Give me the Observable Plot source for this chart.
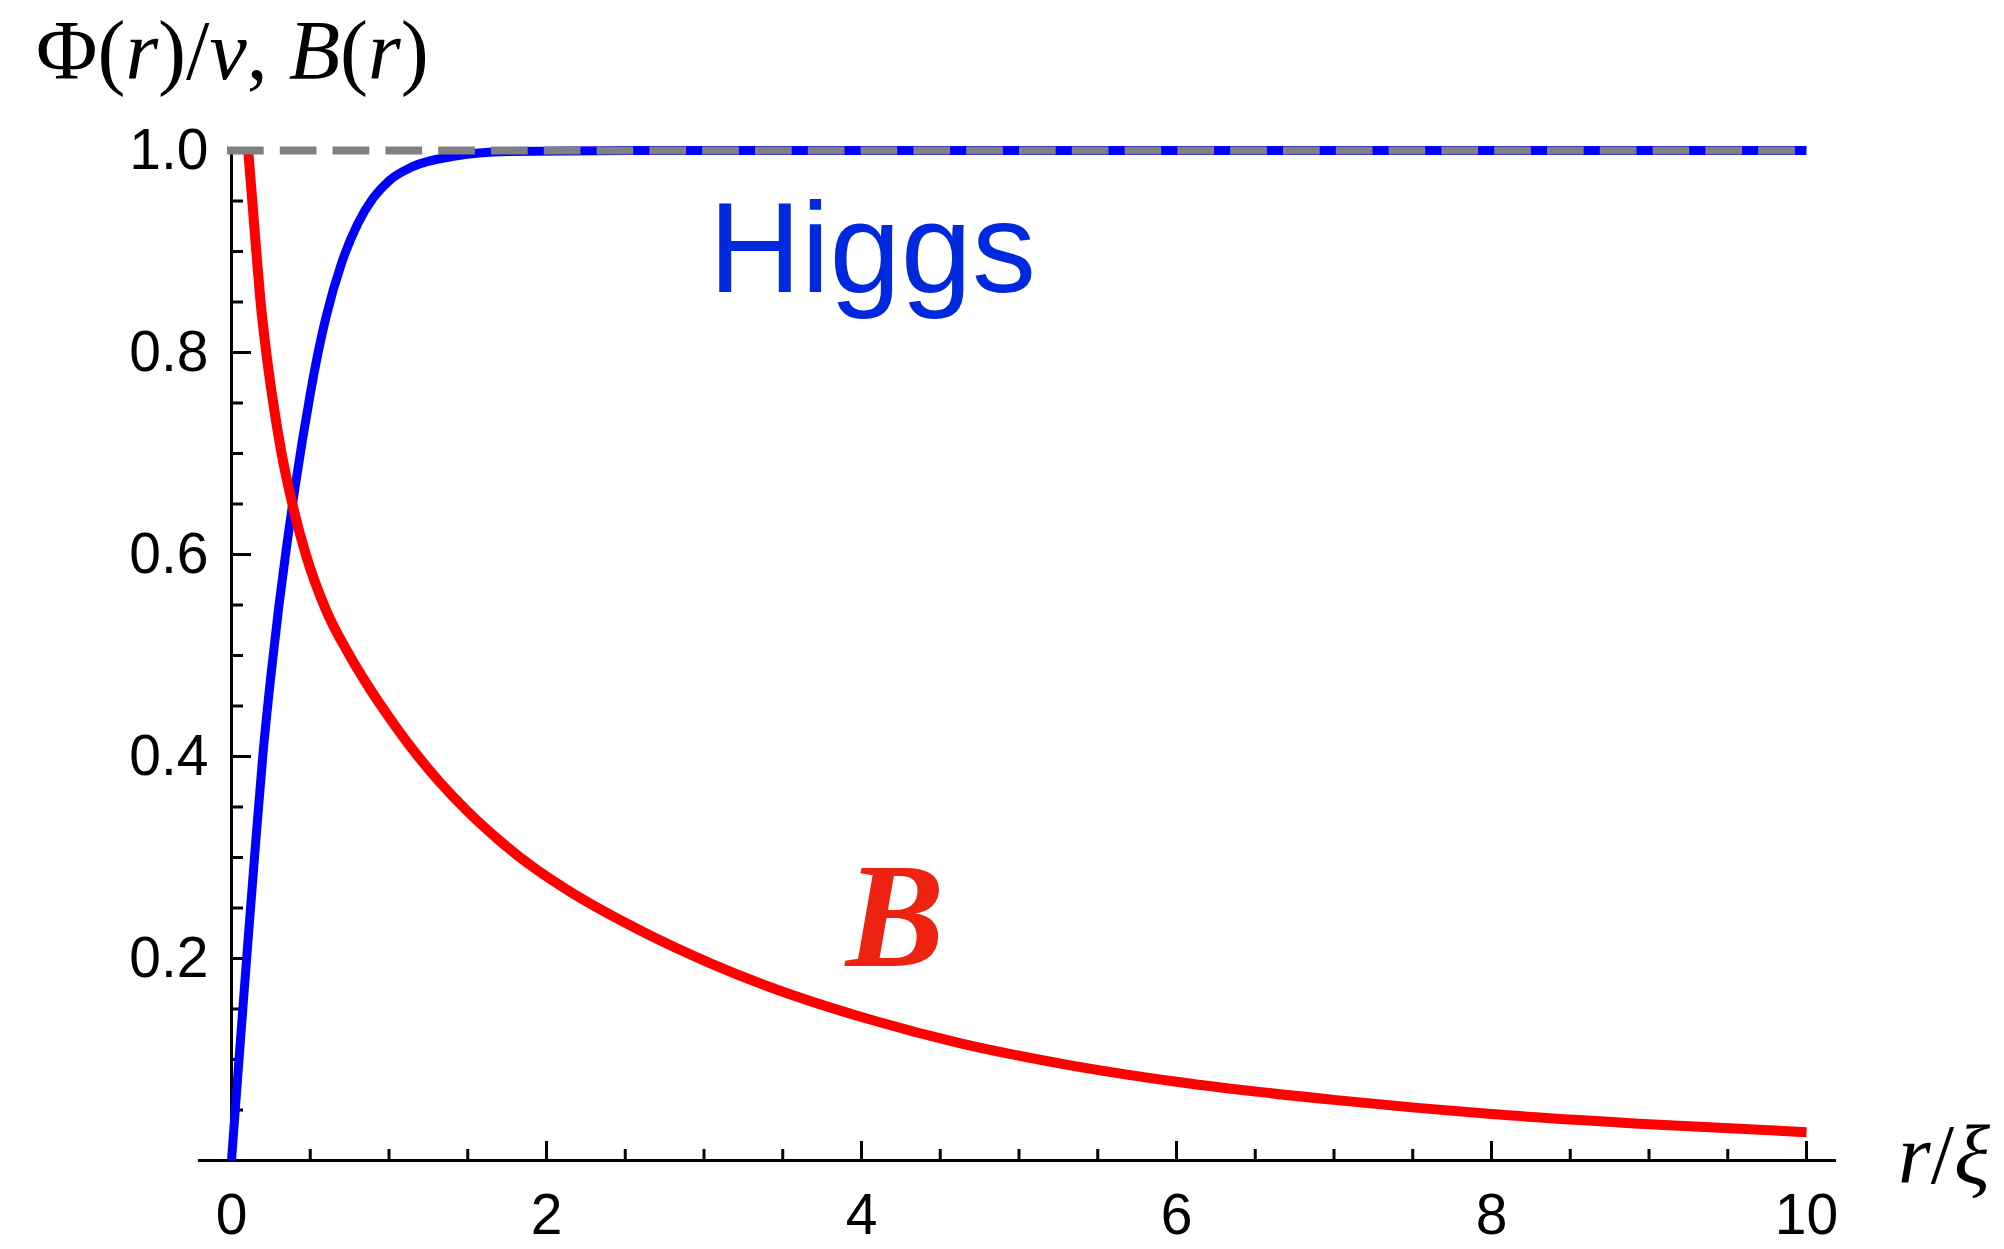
<!DOCTYPE html>
<html>
<head>
<meta charset="utf-8">
<script src="https://cdn.jsdelivr.net/npm/d3@7"></script>
<script src="https://cdn.jsdelivr.net/npm/@observablehq/plot@0.6"></script>
<style>
  html, body { margin: 0; padding: 0; background: #ffffff; }
  #chart svg { display: block; overflow: visible; }
</style>
</head>
<body>
<div id="chart"></div>
<script>
// Higgs profile Φ(r)/v versus r/ξ
const higgsR = [0, 0.05, 0.10, 0.15, 0.20, 0.25, 0.30, 0.35, 0.40, 0.45, 0.50, 0.55, 0.60, 0.70, 0.80, 0.90, 1.00, 1.15, 1.40, 1.76, 2.5, 4, 6, 8, 10];
const higgsV = [0, 0.105, 0.208, 0.308, 0.403, 0.48, 0.548, 0.608, 0.663, 0.713, 0.759, 0.80, 0.835, 0.889, 0.927, 0.953, 0.970, 0.984, 0.994, 0.999, 1, 1, 1, 1, 1];

// Magnetic field profile B(r) versus r/ξ
const fieldR = [0.106, 0.131, 0.157, 0.184, 0.22, 0.264, 0.317, 0.385, 0.47, 0.60, 0.75, 0.85, 1.0, 1.15, 1.32, 1.49, 1.70, 1.91, 2.12, 2.63, 3.03, 3.43, 4.0, 4.63, 5.3, 6, 7, 8, 9, 10];
const fieldB = [1.0, 0.952, 0.901, 0.851, 0.801, 0.751, 0.701, 0.651, 0.601, 0.545, 0.50, 0.474, 0.439, 0.407, 0.375, 0.347, 0.317, 0.291, 0.269, 0.225, 0.196, 0.171, 0.142, 0.116, 0.095, 0.078, 0.060, 0.046, 0.036, 0.028];

// Asymptotic vacuum value (dashed reference)
const vacuumLevel = [1];

// Axis ticks
const xLabels = [0, 2, 4, 6, 8, 10];
const xMajor = [0, 2, 4, 6, 8, 10];
const xMinor = [0.5, 1, 1.5, 2.5, 3, 3.5, 4.5, 5, 5.5, 6.5, 7, 7.5, 8.5, 9, 9.5];
const yLabels = [0.2, 0.4, 0.6, 0.8, 1.0];
const yMajor = [0, 0.2, 0.4, 0.6, 0.8, 1.0];
const yMinor = [0.05, 0.1, 0.15, 0.25, 0.3, 0.35, 0.45, 0.5, 0.55, 0.65, 0.7, 0.75, 0.85, 0.9, 0.95];
const xAxisExtent = [-0.21, 10.19];

// Curve annotations
const annotations = [
  {r: 3.03, v: 0.9495, text: "Higgs", color: "#0028dc", font: "Liberation Sans, Arial, sans-serif", size: 128, style: "normal", weight: "normal"},
  {r: 3.90, v: 0.2965, text: "B", color: "#ee2211", font: "Liberation Serif, Times New Roman, serif", size: 148, style: "italic", weight: "bold"}
];

const higgs = higgsR.map((r, i) => ({r, v: higgsV[i]}));
const field = fieldR.map((r, i) => ({r, v: fieldB[i]}));

const W = 2004, H = 1249;
const sans = "Liberation Sans, Arial, sans-serif";

const chart = Plot.plot({
  width: W,
  height: H,
  marginLeft: 231,
  marginRight: 198,
  marginTop: 150,
  marginBottom: 89,
  style: {fontFamily: sans, fontSize: "57px", background: "#ffffff", color: "#000000"},
  x: {domain: [0, 10]},
  y: {domain: [0, 1]},
  marks: [
    // axis lines
    Plot.ruleY([0], {x1: xAxisExtent[0], x2: xAxisExtent[1], stroke: "#000", strokeWidth: 3}),
    Plot.ruleX([0], {y1: 0, y2: 1, stroke: "#000", strokeWidth: 3}),
    // inward ticks
    Plot.axisY(yMajor, {tickSize: -20, strokeWidth: 3, tickFormat: () => "", label: null}),
    Plot.axisY(yMinor, {tickSize: -12, strokeWidth: 3, tickFormat: () => "", label: null}),
    Plot.axisX(xMajor, {tickSize: -19, strokeWidth: 3, tickFormat: () => "", label: null}),
    Plot.axisX(xMinor, {tickSize: -11, strokeWidth: 3, tickFormat: () => "", label: null}),
    // tick labels
    Plot.axisY(yLabels, {tickSize: 0, tickPadding: 23, tickFormat: d3.format(".1f"), fontSize: 57, label: null}),
    Plot.axisX(xLabels, {tickSize: 0, tickPadding: 33, tickFormat: d3.format("d"), fontSize: 57, label: null}),
    // curves
    Plot.line(higgs, {x: "r", y: "v", stroke: "#0000ff", strokeWidth: 9, curve: "monotone-x", strokeLinecap: "butt"}),
    Plot.line(field, {x: "r", y: "v", stroke: "#ff0000", strokeWidth: 10, curve: "monotone-x", strokeLinecap: "butt"}),
    Plot.ruleY(vacuumLevel, {x1: 0, x2: 10, stroke: "#808080", strokeWidth: 8, strokeDasharray: "28.7 24.1", strokeLinecap: "square"}),
    // annotations
    ...annotations.map(a => Plot.text([a], {
      x: "r", y: "v", text: "text", fill: a.color, fontFamily: a.font, fontSize: a.size,
      fontStyle: a.style, fontWeight: a.weight, textAnchor: "start", lineAnchor: "top"
    }))
  ]
});

document.getElementById("chart").appendChild(chart);

// Axis titles with mixed upright / italic glyphs
const svg = d3.select(chart);
const serif = "Liberation Serif, Times New Roman, serif";

function styledLabel(x, y, parts) {
  const t = svg.append("text")
    .attr("x", x).attr("y", y)
    .attr("text-anchor", "start")
    .attr("font-family", serif)
    .attr("font-size", 84)
    .attr("fill", "#000");
  parts.forEach(([s, italic]) => {
    t.append("tspan").attr("font-style", italic ? "italic" : "normal").text(s);
  });
}

styledLabel(36, 79, [["Φ(", false], ["r", true], [")/", false], ["v", true], [", ", false], ["B", true], ["(", false], ["r", true], [")", false]]);
styledLabel(1898, 1183, [["r", true], ["/", false], ["ξ", true]]);
</script>
</body>
</html>
